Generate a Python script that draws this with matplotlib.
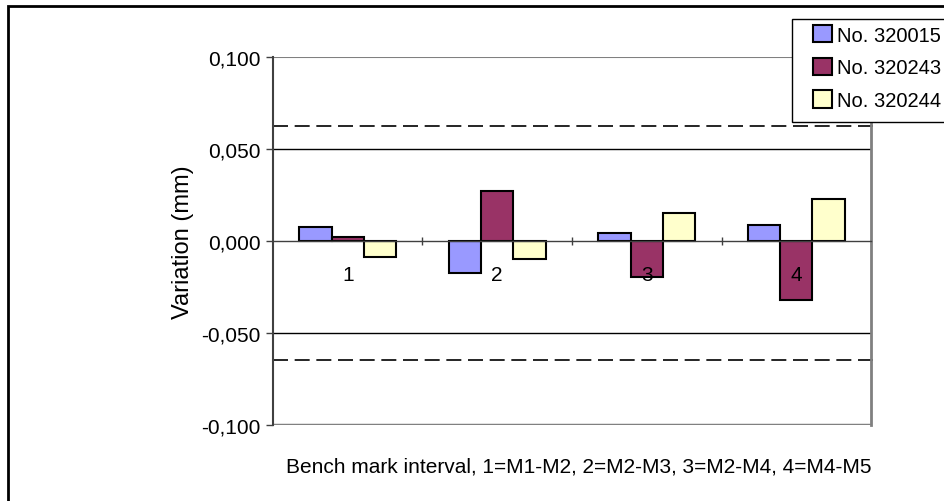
import numpy as np
import matplotlib.pyplot as plt
from matplotlib.patches import Rectangle
from matplotlib.ticker import FuncFormatter

# Data
intervals = ["1", "2", "3", "4"]
series_names = ["No. 320015", "No. 320243", "No. 320244"]
no_320015 = [0.0074, -0.0173, 0.0043, 0.0087]
no_320243 = [0.0020, 0.0270, -0.0195, -0.0318]
no_320244 = [-0.0088, -0.0099, 0.0152, 0.0228]
upper_limit = 0.0625
lower_limit = -0.0646

colors = ["#9999FF", "#993366", "#FFFFCC"]

plt.rcParams['font.family'] = ['Liberation Sans', 'DejaVu Sans']

fig = plt.figure(figsize=(9.45, 5.02), dpi=100)
ax = fig.add_axes([273 / 945, 1 - 426 / 502, 598 / 945, 368 / 502])

x = np.arange(len(intervals))
w = 0.216
for i, (vals, col) in enumerate(zip([no_320015, no_320243, no_320244], colors)):
    ax.bar(x + (i - 1) * w, vals, width=w, color=col, edgecolor="black",
           linewidth=1.5, label=series_names[i], zorder=2)

ax.set_xlim(-0.5, 3.5)
ax.set_ylim(-0.1, 0.1)
ax.set_axisbelow(False)  # category labels drawn over the bars

# gridlines
for yv in [-0.05, 0.05]:
    ax.axhline(yv, color="black", lw=1.0, zorder=1)
ax.axhline(0.1, color="#808080", lw=1.5, zorder=1)
ax.axhline(-0.1, color="#808080", lw=2.5, zorder=1)

# limit lines
for yv in [upper_limit, lower_limit]:
    ax.plot([0, 1.01], [yv, yv], transform=ax.get_yaxis_transform(),
            color="black", lw=1.2, linestyle=(0, (9, 4)), clip_on=False, zorder=1.5)

ax.spines['top'].set_visible(False)
ax.spines['right'].set_color("#808080")
ax.spines['right'].set_linewidth(2)
ax.spines['left'].set_color("#404040")
ax.spines['left'].set_linewidth(1.5)
ax.spines['bottom'].set_position(('data', 0))
ax.spines['bottom'].set_color("#404040")
ax.spines['bottom'].set_linewidth(1.0)

ax.set_yticks([-0.1, -0.05, 0, 0.05, 0.1])
ax.yaxis.set_major_formatter(FuncFormatter(lambda v, p: f"{v:.3f}".replace(".", ",")))
ax.tick_params(axis='y', direction='out', length=5, width=1, color="#404040",
               labelsize=15, pad=4)

ax.set_xticks(x)
ax.set_xticklabels(intervals)
ax.set_xticks(x[:-1] + 0.5, minor=True)
ax.tick_params(axis='x', which='major', length=0, labelsize=15, pad=17)
ax.tick_params(axis='x', which='minor', direction='inout', length=6, width=1, color="#404040")

ax.set_ylabel("Variation (mm)", fontsize=17, labelpad=5)
fig.text(579 / 945, 1 - 467 / 502, "Bench mark interval, 1=M1-M2, 2=M2-M3, 3=M2-M4, 4=M4-M5",
         ha="center", va="center", fontsize=15)

# legend box drawn separately so the entries sit further in from its left edge
fig.patches.append(Rectangle((792 / 945, 1 - 123 / 502), 0.2, 103 / 502,
                             transform=fig.transFigure, facecolor="white",
                             edgecolor="black", lw=1.0, zorder=4))
leg = fig.legend(loc="upper left", bbox_to_anchor=(805 / 945, 1 - 18 / 502),
                 fontsize=14.5, frameon=False,
                 handlelength=0.95, handleheight=0.95, handletextpad=0.25,
                 labelspacing=0.65, borderpad=0.4, borderaxespad=0)
leg.set_zorder(5)

# outer chart border
fig.patches.append(Rectangle((8 / 945, -0.1), 1.2, 1 - 7 / 502 + 0.1,
                             transform=fig.transFigure, fill=False,
                             edgecolor="black", lw=2, zorder=0))

fig.savefig("out.png", dpi=100)
